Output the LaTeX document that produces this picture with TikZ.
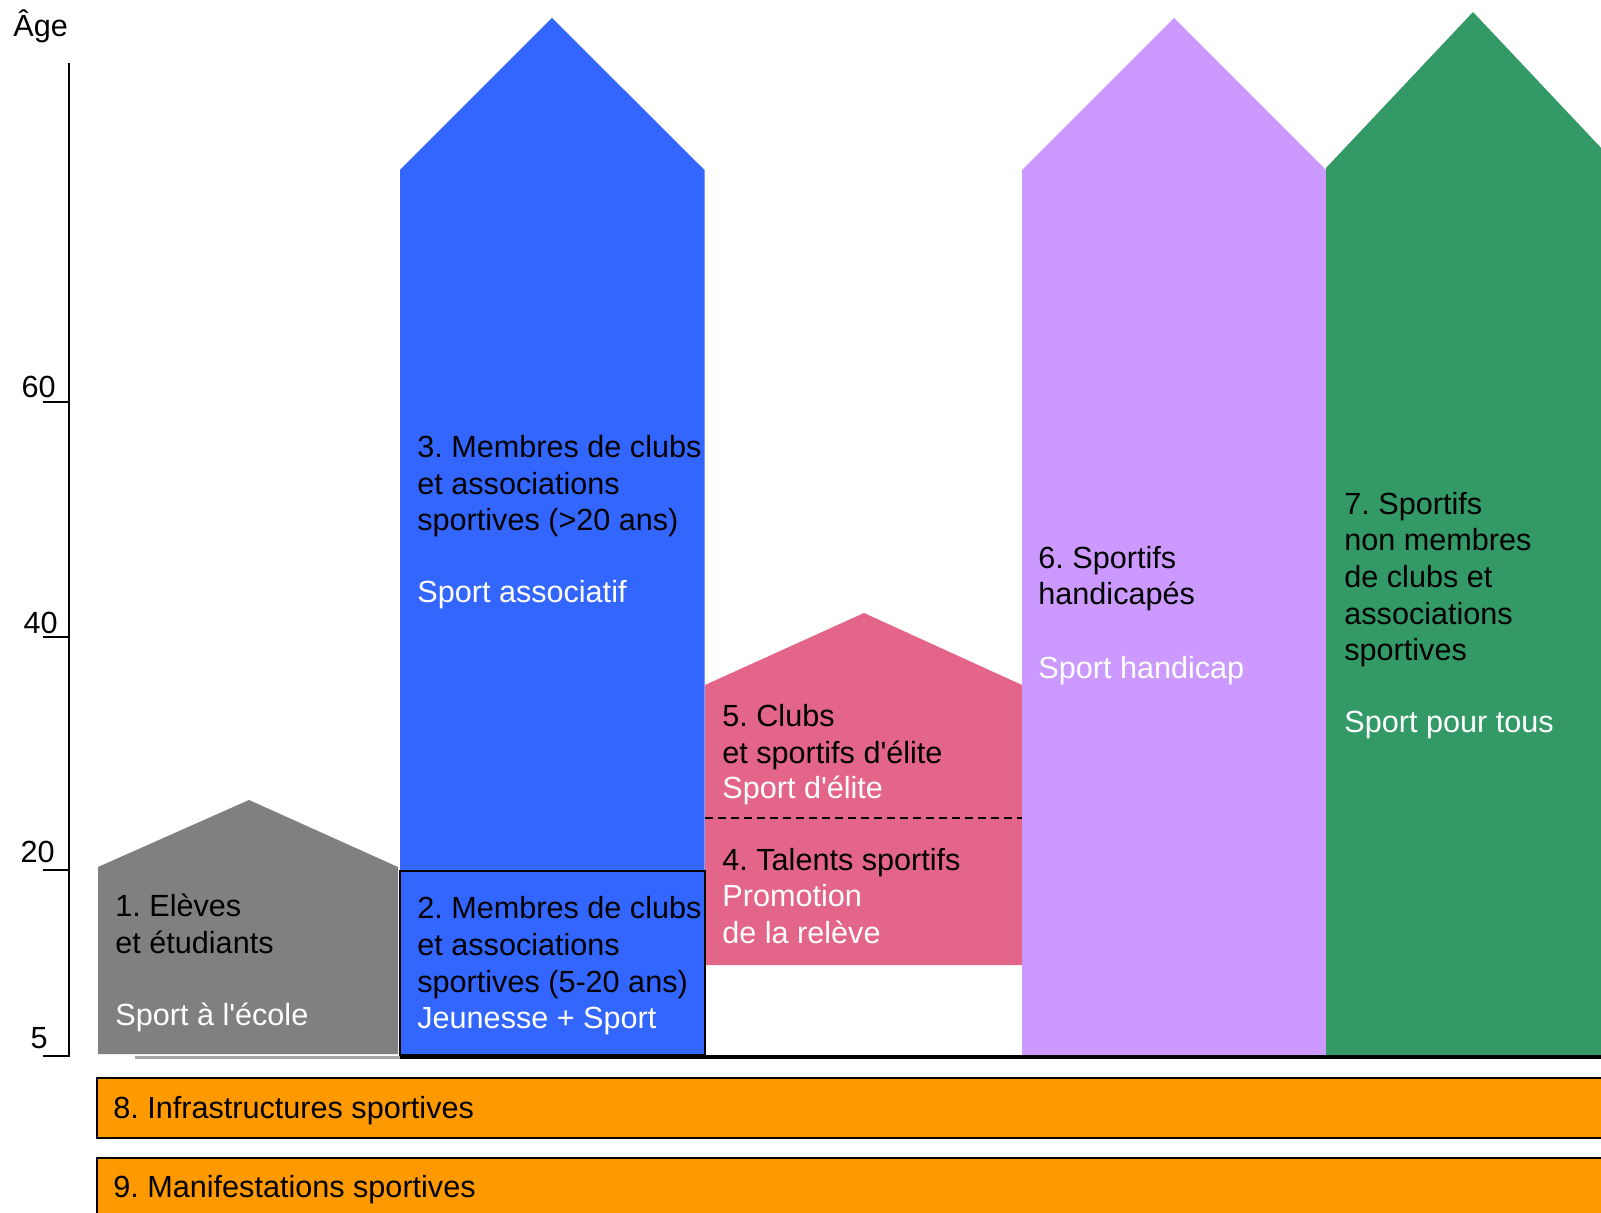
\documentclass[tikz,border=0pt]{standalone}
\usepackage{fontspec}
\setmainfont{Liberation Sans}
\definecolor{grau}{HTML}{808080}
\definecolor{blau}{HTML}{3366FF}
\definecolor{rosa}{HTML}{E3658A}
\definecolor{lila}{HTML}{CC99FF}
\definecolor{gruen}{HTML}{339966}
\definecolor{orange}{HTML}{FF9900}
\newcommand{\ap}{\textquotesingle}
\frenchspacing
\begin{document}
\begin{tikzpicture}[x=0.5pt, y=-0.5pt,
  lbl/.style={anchor=base west, align=left, inner sep=0pt, font=\fontsize{15.3}{18.35}\selectfont},
  sub/.style={lbl, text=white},
  tick/.style={anchor=base east, inner sep=0pt, font=\fontsize{15.3}{18.35}\selectfont}]
\clip (0,0) rectangle (1601,1213);
% columns
\fill[grau] (98,1054) -- (98,867) -- (249,800) -- (398,867) -- (398,1054) -- cycle;
\fill[blau] (400,1055) -- (400,170) -- (552,18) -- (704.5,170) -- (704.5,1055) -- cycle;
\fill[rosa] (705,965) -- (705,685) -- (864,613) -- (1022,685) -- (1022,965) -- cycle;
\fill[lila] (1022,1055) -- (1022,170) -- (1174,18) -- (1326,170) -- (1326,1055) -- cycle;
\fill[gruen] (1326,1055) -- (1326,168) -- (1473,12) -- (1620,168) -- (1620,1055) -- cycle;
\draw[line width=1pt] (400,871) rectangle (704.5,1055);
\draw[line width=1pt, dash pattern=on 4pt off 2.5pt] (705,818) -- (1022,818);
% baseline
\draw[line width=1.5pt, gray!70] (135,1057) -- (400,1057);
\draw[line width=2pt] (400,1057) -- (1601,1057);
% orange bars
\filldraw[fill=orange, draw=black, line width=1pt] (97,1078) rectangle (1620,1138);
\filldraw[fill=orange, draw=black, line width=1pt] (97,1158) rectangle (1620,1230);
% age axis
\draw[line width=1pt] (69,63) -- (69,1057);
\foreach \yy in {402,637,870,1056} \draw[line width=1pt] (43,\yy) -- (69,\yy);
\node[tick] (a60) at (56,398) {60};
\node[tick] (a40) at (58,633) {40};
\node[tick] (a20) at (55,862) {20};
\node[tick] (a5) at (48,1048) {5};
\node[lbl] (age) at (13,37) {Âge};
% texts (multi-line nodes sit on their last baseline)
\node[lbl] (t1) at (115,953) {1. Elèves\\et étudiants};
\node[sub] (s1) at (115,1025) {Sport à l\ap école};
\node[lbl] (t2) at (417,992) {2. Membres de clubs\\et associations\\sportives (5-20 ans)};
\node[sub] (s2) at (417,1028) {Jeunesse + Sport};
\node[lbl] (t3) at (417,531) {3. Membres de clubs\\et associations\\sportives (>20 ans)};
\node[sub] (s3) at (417,603) {Sport associatif};
\node[lbl] (t4) at (722,870) {4. Talents sportifs};
\node[sub] (s4) at (722,943) {Promotion\\de la relève};
\node[lbl] (t5) at (722,763) {5. Clubs\\et sportifs d\ap élite};
\node[sub] (s5) at (722,798) {Sport d\ap élite};
\node[lbl] (t6) at (1038,605) {6. Sportifs\\handicapés};
\node[sub] (s6) at (1038,678) {Sport handicap};
\node[lbl] (t7) at (1344,661) {7. Sportifs\\non membres\\de clubs et\\associations\\sportives};
\node[sub] (s7) at (1344,733) {Sport pour tous};
\node[lbl] (t8) at (113,1118) {8. Infrastructures sportives};
\node[lbl] (t9) at (113,1197) {9. Manifestations sportives};
\end{tikzpicture}
\end{document}
